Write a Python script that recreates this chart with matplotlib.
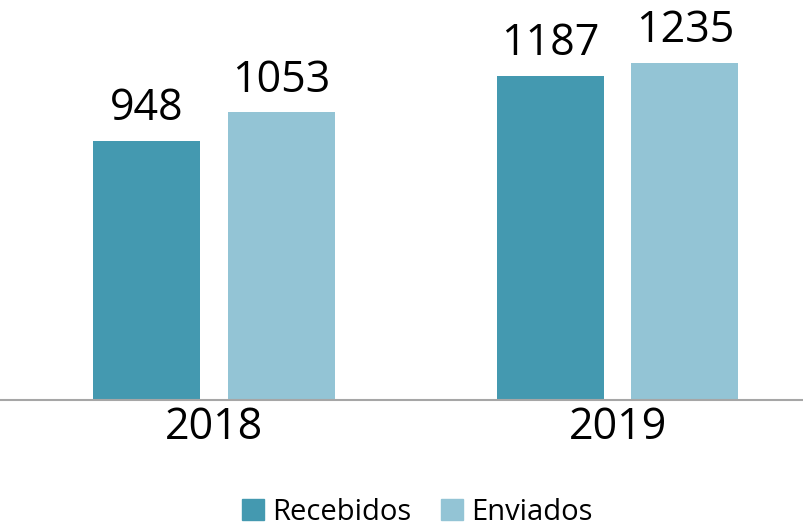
import matplotlib
matplotlib.use("Agg")
import matplotlib.pyplot as plt
import numpy as np
from matplotlib.patches import Patch

years = ["2018", "2019"]
recebidos = [948, 1187]
enviados = [1053, 1235]
series_names = ["Recebidos", "Enviados"]
colors = ["#4499B0", "#93C4D5"]

plt.rcParams['font.family'] = ['Open Sans', 'DejaVu Sans']

W, H = 804, 526
fig = plt.figure(figsize=(W/100, H/100), dpi=100)
ax = fig.add_axes([0, 126/H, 1, 400/H])

x = np.arange(len(years))
bw = 0.266
off = 0.1667
b1 = ax.bar(x - off, recebidos, bw, color=colors[0])
b2 = ax.bar(x + off, enviados, bw, color=colors[1])
for bars, vals in ((b1, recebidos), (b2, enviados)):
    for r, v in zip(bars, vals):
        ax.annotate(str(v), (r.get_x() + r.get_width()/2, v), xytext=(0, 7),
                    textcoords="offset points", ha="center", va="bottom",
                    fontsize=31, color="#000000")

ax.set_xlim(-0.530, 1.462)
ax.set_ylim(0, 1464)
ax.set_xticks(x)
ax.set_xticklabels(years, fontsize=31)
ax.tick_params(axis='x', length=0, pad=4)
ax.set_yticks([])
for s in ["top", "right", "left"]:
    ax.spines[s].set_visible(False)
ax.spines["bottom"].set_color("#A6A6A6")
ax.spines["bottom"].set_linewidth(1.5)

handles = [Patch(color=colors[0]), Patch(color=colors[1])]
fig.legend(handles, series_names, loc="center", bbox_to_anchor=(0.519, 0.026),
           ncol=2, frameon=False, fontsize=21, handlelength=0.75, handleheight=0.75,
           handletextpad=0.3, columnspacing=1.0)

fig.savefig("out.png", dpi=100)
